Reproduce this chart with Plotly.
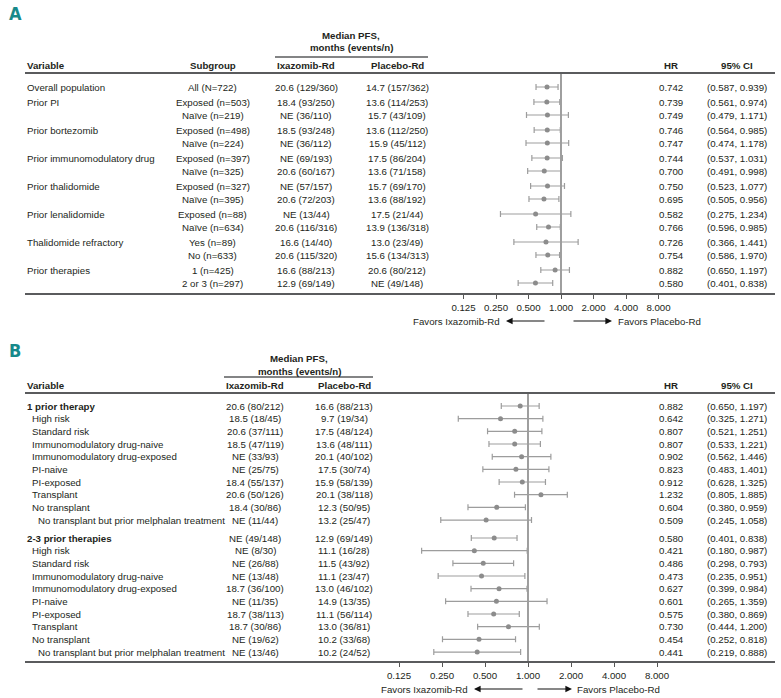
import plotly.graph_objects as go
import numpy as np

W, H = 781, 698
FONT = "Liberation Sans, Arial, sans-serif"
FS = 9.7
TXT = "#231f20"
RULE = "#5a5b5d"
TEAL = "#17898a"

def px(x):
    return x / W

def py(y):
    return 1 - y / H

# ---------------- Panel A data ----------------
varA = ["Overall population", "Prior PI", "", "Prior bortezomib", "",
        "Prior immunomodulatory drug", "", "Prior thalidomide", "",
        "Prior lenalidomide", "", "Thalidomide refractory", "", "Prior therapies", ""]
subA = ["All (N=722)", "Exposed (n=503)", "Naïve (n=219)", "Exposed (n=498)", "Naïve (n=224)",
        "Exposed (n=397)", "Naïve (n=325)", "Exposed (n=327)", "Naïve (n=395)",
        "Exposed (n=88)", "Naïve (n=634)", "Yes (n=89)", "No (n=633)", "1 (n=425)", "2 or 3 (n=297)"]
ixaA = ["20.6 (129/360)", "18.4 (93/250)", "NE (36/110)", "18.5 (93/248)", "NE (36/112)",
        "NE (69/193)", "20.6 (60/167)", "NE (57/157)", "20.6 (72/203)", "NE (13/44)",
        "20.6 (116/316)", "16.6 (14/40)", "20.6 (115/320)", "16.6 (88/213)", "12.9 (69/149)"]
plaA = ["14.7 (157/362)", "13.6 (114/253)", "15.7 (43/109)", "13.6 (112/250)", "15.9 (45/112)",
        "17.5 (86/204)", "13.6 (71/158)", "15.7 (69/170)", "13.6 (88/192)", "17.5 (21/44)",
        "13.9 (136/318)", "13.0 (23/49)", "15.6 (134/313)", "20.6 (80/212)", "NE (49/148)"]
hrA = [0.742, 0.739, 0.749, 0.746, 0.747, 0.744, 0.700, 0.750, 0.695, 0.582, 0.766, 0.726, 0.754, 0.882, 0.580]
loA = [0.587, 0.561, 0.479, 0.564, 0.474, 0.537, 0.491, 0.523, 0.505, 0.275, 0.596, 0.366, 0.586, 0.650, 0.401]
hiA = [0.939, 0.974, 1.171, 0.985, 1.178, 1.031, 0.998, 1.077, 0.956, 1.234, 0.985, 1.441, 0.970, 1.197, 0.838]
ciA = ["(0.587, 0.939)", "(0.561, 0.974)", "(0.479, 1.171)", "(0.564, 0.985)", "(0.474, 1.178)",
       "(0.537, 1.031)", "(0.491, 0.998)", "(0.523, 1.077)", "(0.505, 0.956)", "(0.275, 1.234)",
       "(0.596, 0.985)", "(0.366, 1.441)", "(0.586, 1.970)", "(0.650, 1.197)", "(0.401, 0.838)"]
groupA = [0, 1, 1, 2, 2, 3, 3, 4, 4, 5, 5, 6, 6, 7, 7]

# ---------------- Panel B data ----------------
varB = ["1 prior therapy", "High risk", "Standard risk", "Immunomodulatory drug-naive",
        "Immunomodulatory drug-exposed", "PI-naive", "PI-exposed", "Transplant", "No transplant",
        "No transplant but prior melphalan treatment",
        "2-3 prior therapies", "High risk", "Standard risk", "Immunomodulatory drug-naive",
        "Immunomodulatory drug-exposed", "PI-naive", "PI-exposed", "Transplant", "No transplant",
        "No transplant but prior melphalan treatment"]
levelB = [0, 1, 1, 1, 1, 1, 1, 1, 1, 2] * 2
groupB = [0] * 10 + [1] * 10
ixaB = ["20.6 (80/212)", "18.5 (18/45)", "20.6 (37/111)", "18.5 (47/119)", "NE (33/93)",
        "NE (25/75)", "18.4 (55/137)", "20.6 (50/126)", "18.4 (30/86)", "NE (11/44)",
        "NE (49/148)", "NE (8/30)", "NE (26/88)", "NE (13/48)", "18.7 (36/100)",
        "NE (11/35)", "18.7 (38/113)", "18.7 (30/86)", "NE (19/62)", "NE (13/46)"]
plaB = ["16.6 (88/213)", "9.7 (19/34)", "17.5 (48/124)", "13.6 (48/111)", "20.1 (40/102)",
        "17.5 (30/74)", "15.9 (58/139)", "20.1 (38/118)", "12.3 (50/95)", "13.2 (25/47)",
        "12.9 (69/149)", "11.1 (16/28)", "11.5 (43/92)", "11.1 (23/47)", "13.0 (46/102)",
        "14.9 (13/35)", "11.1 (56/114)", "13.0 (36/81)", "10.2 (33/68)", "10.2 (24/52)"]
hrB = [0.882, 0.642, 0.807, 0.807, 0.902, 0.823, 0.912, 1.232, 0.604, 0.509,
       0.580, 0.421, 0.486, 0.473, 0.627, 0.601, 0.575, 0.730, 0.454, 0.441]
loB = [0.650, 0.325, 0.521, 0.533, 0.562, 0.483, 0.628, 0.805, 0.380, 0.245,
       0.401, 0.180, 0.298, 0.235, 0.399, 0.265, 0.380, 0.444, 0.252, 0.219]
hiB = [1.197, 1.271, 1.251, 1.221, 1.446, 1.401, 1.325, 1.885, 0.959, 1.058,
       0.838, 0.987, 0.793, 0.951, 0.984, 1.359, 0.869, 1.200, 0.818, 0.888]

tickvals = [0.125, 0.25, 0.5, 1, 2, 4, 8]
ticktext = ["0.125", "0.250", "0.500", "1.000", "2.000", "4.000", "8.000"]

# ---------------- layout geometry (pixels) ----------------
A_first, A_rule, A_bot = 87, 73, 294
A_c, A_s = 561, 32.5            # px of HR=1, px per doubling
B_first, B_rule, B_bot = 406, 393, 662
B_c, B_s = 528, 43.0

yA = [i * 13 + g * 2 for i, g in enumerate(groupA)]
yB = [i * 12.67 + g * 5.3 for i, g in enumerate(groupB)]

def xrange_for(c, s, left, right):
    return [np.log10(2.0 ** ((left - c) / s)), np.log10(2.0 ** ((right - c) / s))]

fig = go.Figure()

def forest(hr, lo, hi, ys, xa, ya, bot_rel, top_rel):
    fig.add_trace(go.Scatter(
        x=[1, 1], y=[top_rel, bot_rel], mode="lines", xaxis=xa, yaxis=ya,
        line=dict(color="#6b6b6b", width=1.3), hoverinfo="skip", showlegend=False))
    fig.add_trace(go.Scatter(
        x=hr, y=ys, mode="markers", xaxis=xa, yaxis=ya, showlegend=False,
        marker=dict(color="#8c8c8c", size=5),
        error_x=dict(type="data", symmetric=False,
                     array=[h - m for h, m in zip(hi, hr)],
                     arrayminus=[m - l for m, l in zip(hr, lo)],
                     color="#9d9d9d", thickness=1.2, width=3)))

forest(hrA, loA, hiA, yA, "x", "y", A_bot - A_first, A_rule - A_first)
forest(hrB, loB, hiB, yB, "x2", "y2", B_bot - B_first, B_rule - B_first)

ann = []

def txt(x, y, s, xanchor="center", yref="paper", bold=False, size=FS, color=TXT, family=FONT):
    ann.append(dict(x=x, y=y, xref="paper", yref=yref, text=("<b>%s</b>" % s) if bold else s,
                    showarrow=False, xanchor=xanchor, yanchor="middle",
                    font=dict(family=family, size=size, color=color)))

# Panel A text
txt(px(7), py(14), "A", "left", bold=True, size=18, color=TEAL,
    family="Liberation Sans Narrow, DejaVu Sans Condensed, Arial Narrow, sans-serif")
txt(px(351), py(35), "Median PFS,", bold=True)
txt(px(351), py(48), "months (events/n)", bold=True)
txt(px(25), py(65), "Variable", "left", bold=True)
txt(px(213), py(65), "Subgroup", bold=True)
txt(px(306), py(65), "Ixazomib-Rd", bold=True)
txt(px(397), py(65), "Placebo-Rd", bold=True)
txt(px(671), py(65), "HR", bold=True)
txt(px(737), py(65), "95% CI", bold=True)
for i in range(len(hrA)):
    if varA[i]:
        txt(px(25), yA[i], varA[i], "left", yref="y")
    txt(px(213), yA[i], subA[i], yref="y")
    txt(px(306), yA[i], ixaA[i], yref="y")
    txt(px(397), yA[i], plaA[i], yref="y")
    txt(px(671), yA[i], "%.3f" % hrA[i], yref="y")
    txt(px(737), yA[i], ciA[i], yref="y")

# Panel B text
txt(px(7), py(350), "B", "left", bold=True, size=18, color=TEAL,
    family="Liberation Sans Narrow, DejaVu Sans Condensed, Arial Narrow, sans-serif")
txt(px(299), py(358), "Median PFS,", bold=True)
txt(px(299), py(371), "months (events/n)", bold=True)
txt(px(25), py(385), "Variable", "left", bold=True)
txt(px(255), py(385), "Ixazomib-Rd", bold=True)
txt(px(344), py(385), "Placebo-Rd", bold=True)
txt(px(671), py(385), "HR", bold=True)
txt(px(737), py(385), "95% CI", bold=True)
indent = [25, 30, 36]
for i in range(len(hrB)):
    txt(px(indent[levelB[i]]), yB[i], varB[i], "left", yref="y2", bold=(levelB[i] == 0))
    txt(px(255), yB[i], ixaB[i], yref="y2")
    txt(px(344), yB[i], plaB[i], yref="y2")
    txt(px(671), yB[i], "%.3f" % hrB[i], yref="y2")
    txt(px(737), yB[i], "(%.3f, %.3f)" % (loB[i], hiB[i]), yref="y2")

# favors labels + arrows
def favors(y, lt_right, l_head, l_tail, r_tail, r_head, rt_left):
    txt(px(lt_right), py(y), "Favors Ixazomib-Rd", "right")
    txt(px(rt_left), py(y), "Favors Placebo-Rd", "left")
    for head, tail in ((l_head, l_tail), (r_head, r_tail)):
        ann.append(dict(x=px(head), y=py(y), xref="paper", yref="paper", text="",
                        showarrow=True, ax=tail - head, ay=0, arrowhead=2, arrowsize=1.1,
                        arrowwidth=1.2, arrowcolor="#111111"))

favors(321, 502, 506, 546, 572, 612, 616)
favors(689, 470, 474, 524, 536, 572, 575)

shapes = []

def hline(y, x0, x1, w=2.0, color=RULE):
    shapes.append(dict(type="line", xref="paper", yref="paper", x0=px(x0), x1=px(x1),
                       y0=py(y), y1=py(y), line=dict(color=color, width=w)))

hline(57, 275, 428, 1.4)
hline(A_rule, 25, 775)
hline(A_bot, 25, 775)
hline(377, 224, 373, 1.4)
hline(B_rule, 25, 775)
hline(B_bot, 25, 775)

axis_common = dict(type="log", tickvals=tickvals, ticktext=ticktext, ticks="outside",
                   ticklen=4, tickwidth=1, tickcolor="#555555", showgrid=False,
                   zeroline=False, showline=False,
                   tickfont=dict(family=FONT, size=FS, color=TXT), fixedrange=True)

fig.update_layout(
    width=W, height=H, margin=dict(l=0, r=0, t=0, b=0),
    paper_bgcolor="white", plot_bgcolor="rgba(0,0,0,0)",
    showlegend=False,
    xaxis=dict(domain=[px(395), px(725)], range=xrange_for(A_c, A_s, 395, 725),
               anchor="y", **axis_common),
    yaxis=dict(domain=[py(A_bot), py(A_rule)], range=[A_bot - A_first, A_rule - A_first],
               visible=False, fixedrange=True),
    xaxis2=dict(domain=[px(380), px(725)], range=xrange_for(B_c, B_s, 380, 725),
                anchor="y2", **axis_common),
    yaxis2=dict(domain=[py(B_bot), py(B_rule)], range=[B_bot - B_first, B_rule - B_first],
                visible=False, fixedrange=True),
    annotations=ann, shapes=shapes,
)

fig.write_html("out.html", config={"displayModeBar": False},
               post_script="document.body.style.margin='0';document.body.style.overflow='hidden';")
